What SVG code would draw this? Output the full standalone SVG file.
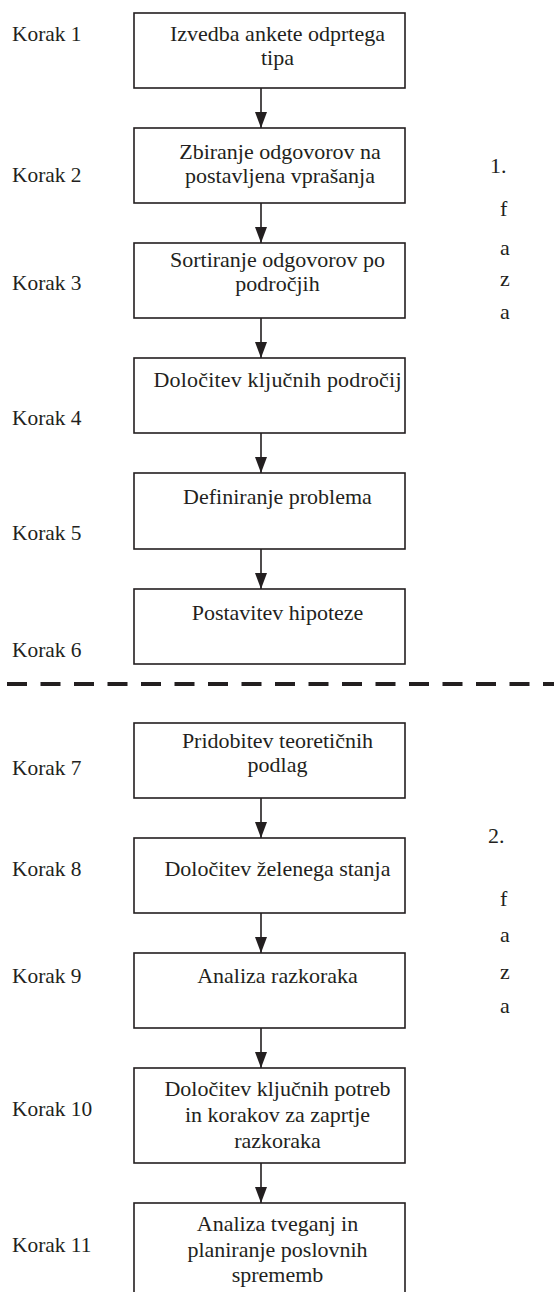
<svg xmlns="http://www.w3.org/2000/svg" width="554" height="1292" viewBox="0 0 554 1292">
<defs>
<style>
.box{fill:#fff;stroke:#231f20;stroke-width:1.6}
.c{stroke:#231f20;stroke-width:1.6;fill:none}
.t,.k,.p{font-family:"Liberation Serif","Times New Roman",serif;fill:#231f20}
.t{font-size:22px;text-anchor:middle}
.k{font-size:21.4px}
.p{font-size:22px}
</style>
<marker id="ah" viewBox="0 0 16 12" refX="16" refY="6" markerWidth="16" markerHeight="12" markerUnits="userSpaceOnUse" orient="auto">
<path d="M0,0 L16,6 L0,12 Z" fill="#231f20"/>
</marker>
</defs>
<rect width="554" height="1292" fill="#fff"/>
<g id="connectors">
<line class="c" x1="261" y1="88" x2="261" y2="128" marker-end="url(#ah)"/>
<line class="c" x1="261" y1="203" x2="261" y2="243" marker-end="url(#ah)"/>
<line class="c" x1="261" y1="318" x2="261" y2="358" marker-end="url(#ah)"/>
<line class="c" x1="261" y1="433" x2="261" y2="473" marker-end="url(#ah)"/>
<line class="c" x1="261" y1="549" x2="261" y2="589" marker-end="url(#ah)"/>
<line class="c" x1="261" y1="798" x2="261" y2="838" marker-end="url(#ah)"/>
<line class="c" x1="261" y1="913" x2="261" y2="953" marker-end="url(#ah)"/>
<line class="c" x1="261" y1="1028" x2="261" y2="1068" marker-end="url(#ah)"/>
<line class="c" x1="261" y1="1163" x2="261" y2="1203" marker-end="url(#ah)"/>
</g>
<g id="divider">
<line x1="7" y1="684" x2="554" y2="684" stroke="#231f20" stroke-width="4" stroke-dasharray="20 13.5"/>
</g>
<g id="n1"><rect class="box" x="134" y="13" width="271" height="75"/><text class="t" x="277.5" y="41">Izvedba ankete odprtega</text><text class="t" x="277.5" y="65">tipa</text></g>
<g id="n2"><rect class="box" x="134" y="128" width="271" height="75"/><text class="t" x="280" y="159">Zbiranje odgovorov na</text><text class="t" x="280" y="183">postavljena vprašanja</text></g>
<g id="n3"><rect class="box" x="134" y="243" width="271" height="75"/><text class="t" x="277.5" y="267">Sortiranje odgovorov po</text><text class="t" x="277.5" y="291">področjih</text></g>
<g id="n4"><rect class="box" x="134" y="358" width="271" height="75"/><text class="t" x="277.5" y="387" textLength="248" lengthAdjust="spacing">Določitev ključnih področij</text></g>
<g id="n5"><rect class="box" x="134" y="473" width="271" height="76"/><text class="t" x="277.5" y="504">Definiranje problema</text></g>
<g id="n6"><rect class="box" x="134" y="589" width="271" height="75"/><text class="t" x="277.5" y="620">Postavitev hipoteze</text></g>
<g id="n7"><rect class="box" x="134" y="723" width="271" height="75"/><text class="t" x="277.5" y="748">Pridobitev teoretičnih</text><text class="t" x="277.5" y="772">podlag</text></g>
<g id="n8"><rect class="box" x="134" y="838" width="271" height="75"/><text class="t" x="277.5" y="876">Določitev želenega stanja</text></g>
<g id="n9"><rect class="box" x="134" y="953" width="271" height="75"/><text class="t" x="277.5" y="983">Analiza razkoraka</text></g>
<g id="n10"><rect class="box" x="134" y="1068" width="271" height="95"/><text class="t" x="277.5" y="1096">Določitev ključnih potreb</text><text class="t" x="277.5" y="1122">in korakov za zaprtje</text><text class="t" x="277.5" y="1148">razkoraka</text></g>
<g id="n11"><rect class="box" x="134" y="1203" width="271" height="95"/><text class="t" x="277.5" y="1231">Analiza tveganj in</text><text class="t" x="277.5" y="1257">planiranje poslovnih</text><text class="t" x="277.5" y="1282">sprememb</text></g>
<g id="steps">
<text class="k" x="12" y="41">Korak 1</text>
<text class="k" x="12" y="182">Korak 2</text>
<text class="k" x="12" y="290">Korak 3</text>
<text class="k" x="12" y="425">Korak 4</text>
<text class="k" x="12" y="540">Korak 5</text>
<text class="k" x="12" y="657">Korak 6</text>
<text class="k" x="12" y="775">Korak 7</text>
<text class="k" x="12" y="876">Korak 8</text>
<text class="k" x="12" y="983">Korak 9</text>
<text class="k" x="12" y="1116">Korak 10</text>
<text class="k" x="12" y="1252">Korak 11</text>
</g>
<g id="phase1">
<text class="p" x="490" y="173">1.</text>
<text class="p" x="500" y="216">f</text>
<text class="p" x="500" y="255">a</text>
<text class="p" x="500" y="286">z</text>
<text class="p" x="500" y="319">a</text>
</g>
<g id="phase2">
<text class="p" x="488" y="843">2.</text>
<text class="p" x="500" y="906">f</text>
<text class="p" x="500" y="942">a</text>
<text class="p" x="500" y="979">z</text>
<text class="p" x="500" y="1013">a</text>
</g>
</svg>
